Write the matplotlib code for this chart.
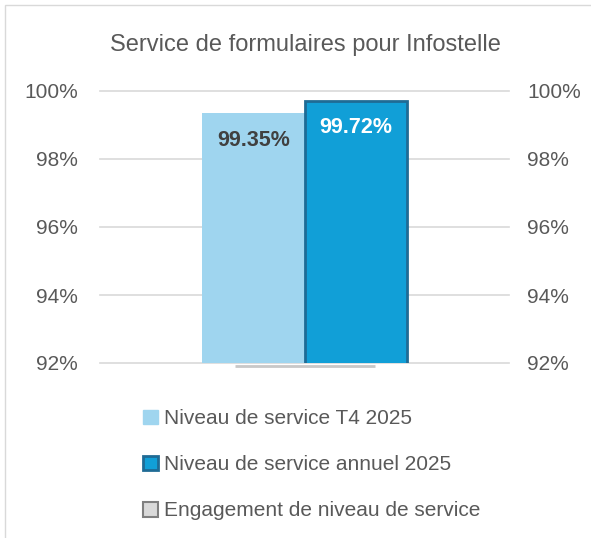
import matplotlib.pyplot as plt
from matplotlib.patches import Patch, Rectangle
from matplotlib.ticker import PercentFormatter

plt.rcParams['font.family'] = ['Liberation Sans', 'DejaVu Sans']

# data
series = ["Niveau de service T4 2025", "Niveau de service annuel 2025", "Engagement de niveau de service"]
values = [0.9935, 0.9972]
engagement = 0.919
labels = ["99.35%", "99.72%"]
yticks = [0.92, 0.94, 0.96, 0.98, 1.00]

light = "#9fd5ef"
dark = "#119fd7"
dark_edge = "#1f6b95"
grey = "#595959"

fig = plt.figure(figsize=(5.91, 5.38), dpi=100)
ax = fig.add_axes([100/591, 1-363/538, 409/591, 272/538])

w = 0.25
ax.bar(-w/2, values[0], width=w, color=light, zorder=3)
ax.bar(w/2, values[1], width=w, color=dark, edgecolor=dark_edge, linewidth=2, zorder=3)
ax.hlines(engagement, -0.17, 0.172, color="#c8c8c8", linewidth=2, clip_on=False, zorder=4)

ax.text(-w/2, values[0]-0.0082, labels[0], ha="center", va="center", fontsize=15.5,
        fontweight="bold", color="#404040", zorder=5)
ax.text(w/2, values[1]-0.0078, labels[1], ha="center", va="center", fontsize=15.5,
        fontweight="bold", color="white", zorder=5)

ax.set_xlim(-0.5, 0.5)
ax.set_ylim(0.92, 1.0)
ax.set_yticks(yticks)
ax.yaxis.set_major_formatter(PercentFormatter(1.0, decimals=0))
ax.set_xticks([])
ax.grid(axis="y", color="#d9d9d9", linewidth=1.2, zorder=0)
for gl in ax.get_ygridlines():
    gl.set_clip_on(False)
for s in ax.spines.values():
    s.set_visible(False)
ax.tick_params(axis="y", length=0, pad=16, labelsize=15, labelcolor=grey)

ax2 = ax.twinx()
ax2.set_ylim(0.92, 1.0)
ax2.set_yticks(yticks)
ax2.yaxis.set_major_formatter(PercentFormatter(1.0, decimals=0))
for s in ax2.spines.values():
    s.set_visible(False)
ax2.tick_params(axis="y", length=0, pad=13, labelsize=15, labelcolor=grey)

fig.text(305/591, 1-45/538, "Service de formulaires pour Infostelle", ha="center", va="center",
         fontsize=17, color=grey)

handles = [Patch(facecolor=light, edgecolor=light),
           Patch(facecolor=dark, edgecolor=dark_edge, linewidth=2),
           Patch(facecolor="#d9d9d9", edgecolor="#7f7f7f", linewidth=1.5)]
fig.legend(handles, series, loc="upper left", bbox_to_anchor=(135/591, 1-401/538),
           frameon=False, fontsize=15, labelcolor=grey, handlelength=0.7, handleheight=0.7,
           handletextpad=0.3, labelspacing=1.3, borderaxespad=0)

fig.patches.append(Rectangle((5/591, -0.1), 1.2, 0.1+533/538, transform=fig.transFigure,
                             fill=False, edgecolor="#d9d9d9", linewidth=1))

fig.savefig("out.png", dpi=100)
